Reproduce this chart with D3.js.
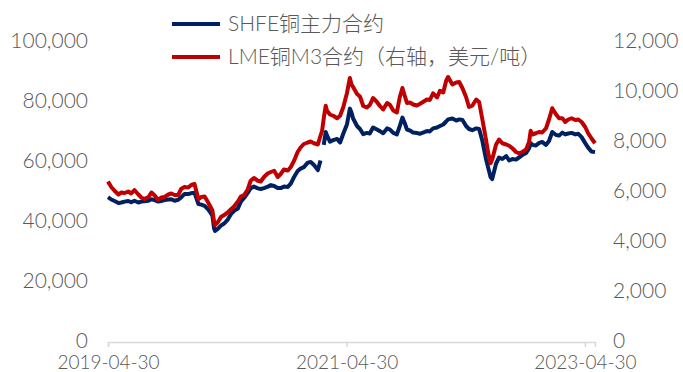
<!DOCTYPE html>
<html>
<head>
<meta charset="utf-8">
<script src="https://cdn.jsdelivr.net/npm/d3@7/dist/d3.min.js"></script>
<style>
  html, body { margin: 0; padding: 0; background: #fff; }
  svg { display: block; }
  text { font-family: "Lato", "Noto Sans CJK SC", sans-serif; font-weight: 300; fill: #595959; }
</style>
</head>
<body>
<svg id="chart" width="683" height="372"></svg>
<script>
// Trading dates (sampled) and closing prices
const dates = [
  "2019-04-30","2019-05-10","2019-05-20","2019-06-01","2019-06-10","2019-06-20",
  "2019-07-01","2019-07-10","2019-07-20","2019-08-01","2019-08-10","2019-08-20",
  "2019-09-01","2019-09-10","2019-09-20","2019-10-01","2019-10-10","2019-10-20",
  "2019-11-01","2019-11-10","2019-11-20","2019-12-01","2019-12-10","2019-12-20",
  "2020-01-01","2020-01-10","2020-01-20","2020-02-01","2020-02-10","2020-02-20",
  "2020-03-01","2020-03-10","2020-03-15","2020-03-20","2020-03-23","2020-04-01",
  "2020-04-10","2020-04-20","2020-05-01","2020-05-10","2020-05-20","2020-06-01",
  "2020-06-10","2020-06-20","2020-07-01","2020-07-10","2020-07-20","2020-08-01",
  "2020-08-10","2020-08-20","2020-09-01","2020-09-10","2020-09-20","2020-10-01",
  "2020-10-10","2020-10-20","2020-11-01","2020-11-10","2020-11-20","2020-12-01",
  "2020-12-10","2020-12-20","2021-01-01","2021-01-10","2021-01-20","2021-02-01",
  "2021-02-09","2021-02-14","2021-02-19","2021-02-25","2021-03-01","2021-03-10",
  "2021-03-20","2021-04-01","2021-04-10","2021-04-20","2021-05-01","2021-05-10",
  "2021-05-15","2021-05-20","2021-06-01","2021-06-10","2021-06-20","2021-07-01",
  "2021-07-10","2021-07-20","2021-08-01","2021-08-10","2021-08-20","2021-09-01",
  "2021-09-10","2021-09-20","2021-10-01","2021-10-10","2021-10-18","2021-10-25",
  "2021-11-01","2021-11-10","2021-11-20","2021-12-01","2021-12-10","2021-12-20",
  "2022-01-01","2022-01-10","2022-01-20","2022-02-01","2022-02-10","2022-02-20",
  "2022-03-01","2022-03-07","2022-03-20","2022-04-01","2022-04-10","2022-04-20",
  "2022-05-01","2022-05-10","2022-05-20","2022-06-01","2022-06-10","2022-06-20",
  "2022-07-01","2022-07-08","2022-07-15","2022-07-20","2022-08-01","2022-08-10",
  "2022-08-20","2022-09-01","2022-09-10","2022-09-20","2022-10-01","2022-10-10",
  "2022-10-20","2022-11-01","2022-11-10","2022-11-15","2022-11-20","2022-12-01",
  "2022-12-10","2022-12-20","2023-01-01","2023-01-10","2023-01-20","2023-02-01",
  "2023-02-10","2023-02-20","2023-03-01","2023-03-10","2023-03-20","2023-04-01",
  "2023-04-10","2023-04-20","2023-05-01","2023-05-10","2023-05-20","2023-05-31"
];

// SHFE copper main contract, CNY/t (null = exchange closed)
const shfe = [
  48300,47500,47000,46300,46500,46800,
  47000,46600,47100,46500,46800,46900,
  47100,47600,47300,46800,47000,47300,
  47500,47600,47100,47400,48200,49300,
  49300,49600,49800,46000,45800,45400,
  44300,43000,42000,37800,37000,37800,
  38800,39500,40800,42500,43700,44500,
  46800,48000,49700,51300,51800,51200,
  51000,51300,51800,52300,52000,51300,
  51300,51800,51700,52800,55000,57000,
  57800,58300,59800,60000,59000,57300,
  60500,null,65700,70000,68800,66800,
  67300,67700,66500,69500,72500,77800,
  76500,74500,72000,71000,69300,69700,
  69500,71500,70800,70300,69600,71200,
  70800,69700,69200,72000,74800,73000,
  70800,70500,69800,69700,69400,69800,
  70300,70200,71200,71500,72000,72500,
  73500,74200,74500,73800,74200,74000,
  72000,71000,70600,71200,71000,67000,
  61000,58000,55000,54300,59500,61500,
  61000,62000,60500,61000,60800,61500,
  62300,63000,64500,66300,65700,65500,
  66300,66700,65700,67000,70000,69000,
  68800,69800,69200,69500,69700,69200,
  69400,68300,66300,64800,63500,63300
];

// LME copper 3M, USD/t (right axis)
const lme = [
  6420,6200,6050,5900,5980,5960,
  6020,5940,6080,5900,5780,5720,
  5800,5980,5860,5680,5780,5800,
  5900,5940,5880,5880,6120,6200,
  6180,6280,6320,5720,5800,5820,
  5600,5380,5250,4820,4680,4800,
  5000,5080,5180,5300,5420,5620,
  5820,5880,6100,6450,6560,6450,
  6420,6600,6750,6800,6850,6600,
  6720,6900,6860,7000,7250,7600,
  7780,7920,7980,8020,7950,7900,
  8250,8450,8950,9450,9250,9100,
  9050,8950,9050,9400,9950,10560,
  10300,10200,9920,9820,9440,9380,
  9480,9760,9600,9440,9300,9560,
  9480,9260,9180,9800,10160,9850,
  9560,9580,9500,9460,9520,9600,
  9700,9680,9950,9780,10050,9980,
  10450,10600,10300,10380,10400,10150,
  9800,9400,9450,9700,9600,8900,
  8100,7550,7150,7300,7900,8100,
  7950,7900,7850,7750,7600,7550,
  7600,7700,8000,8450,8300,8350,
  8400,8380,8550,8900,9350,9100,
  8950,8950,8800,8900,8950,8880,
  8900,8800,8600,8350,8150,7950
];

const leftTicks = [0, 20000, 40000, 60000, 80000, 100000];
const rightTicks = [0, 2000, 4000, 6000, 8000, 10000, 12000];
const xTicks = ["2019-04-30", "2021-04-30", "2023-04-30"];
const seriesNames = ["SHFE铜主力合约", "LME铜M3合约（右轴，美元/吨）"];
const seriesColors = ["#002060", "#C00000"];

const parse = d3.timeParse("%Y-%m-%d");
const dateObjs = dates.map(parse);

const svg = d3.select("#chart");
svg.append("rect").attr("width", 683).attr("height", 372).attr("fill", "#fff");

const x = d3.scaleTime()
  .domain([parse("2019-04-30"), parse("2023-05-31")])
  .range([108, 595]);
const yL = d3.scaleLinear().domain([0, 100000]).range([342, 42]);
const yR = d3.scaleLinear().domain([0, 12000]).range([342, 42]);

// Left value axis (labels only)
const gL = svg.append("g").attr("transform", "translate(108,0)")
  .call(d3.axisLeft(yL).tickValues(leftTicks).tickSize(0).tickPadding(20).tickFormat(d3.format(",")));
gL.select(".domain").remove();

// Right value axis (labels only)
const gR = svg.append("g").attr("transform", "translate(595,0)")
  .call(d3.axisRight(yR).tickValues(rightTicks).tickSize(0).tickPadding(18).tickFormat(d3.format(",")));
gR.select(".domain").remove();

// Date axis
const gX = svg.append("g").attr("transform", "translate(0,342)")
  .call(d3.axisBottom(x).tickValues(xTicks.map(parse)).tickSize(5).tickPadding(9)
    .tickFormat(d3.timeFormat("%Y-%m-%d")));
gX.select(".domain").attr("stroke", "#D9D9D9").attr("stroke-width", 1.5);
gX.selectAll(".tick line").attr("stroke", "#D9D9D9").attr("stroke-width", 1.5);

svg.selectAll(".tick text").attr("fill", "#595959")
  .style("font-family", "Lato, sans-serif");
gL.selectAll(".tick text").attr("font-size", 21).attr("dy", "0.28em");
gR.selectAll(".tick text").attr("font-size", 21).attr("dy", "0.28em");
gX.selectAll(".tick text").attr("font-size", 19);

// Price lines
const shfeLine = d3.line()
  .defined((d, i) => shfe[i] !== null)
  .x((d, i) => x(dateObjs[i]))
  .y((d, i) => yL(shfe[i]));
const lmeLine = d3.line()
  .x((d, i) => x(dateObjs[i]))
  .y((d, i) => yR(lme[i]));

svg.append("path").datum(dates).attr("d", shfeLine)
  .attr("fill", "none").attr("stroke", seriesColors[0])
  .attr("stroke-width", 4).attr("stroke-linejoin", "round");
svg.append("path").datum(dates).attr("d", lmeLine)
  .attr("fill", "none").attr("stroke", seriesColors[1])
  .attr("stroke-width", 4).attr("stroke-linejoin", "round");

// Legend
const legendY = [24, 57];
const legend = svg.append("g");
seriesNames.forEach((name, i) => {
  legend.append("line")
    .attr("x1", 172).attr("x2", 220)
    .attr("y1", legendY[i]).attr("y2", legendY[i])
    .attr("stroke", seriesColors[i]).attr("stroke-width", 4);
  legend.append("text")
    .attr("x", 228).attr("y", legendY[i])
    .attr("dy", "0.35em")
    .attr("font-size", 21)
    .text(name);
});
</script>
</body>
</html>
